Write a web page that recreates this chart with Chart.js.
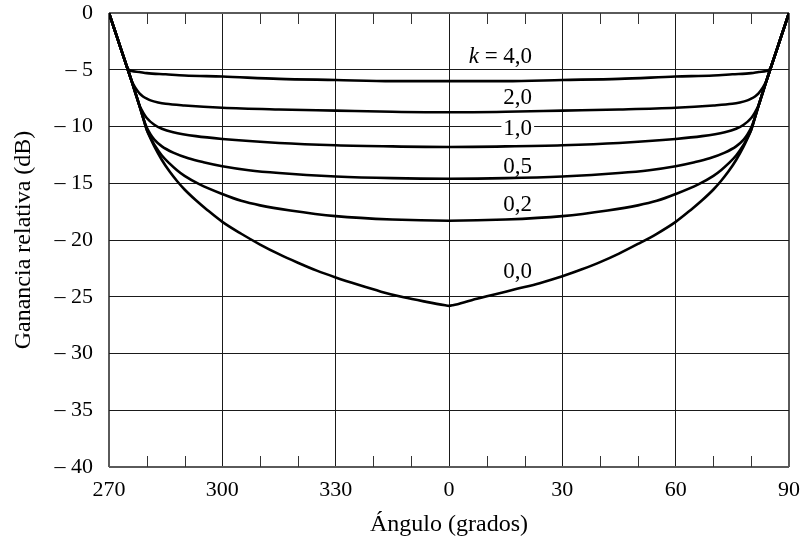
<!DOCTYPE html>
<html>
<head>
<meta charset="utf-8">
<script src="https://cdn.jsdelivr.net/npm/chart.js@4.4.0/dist/chart.umd.min.js"></script>
<style>
  html, body { margin: 0; padding: 0; background: #fff; }
</style>
</head>
<body>
<canvas id="gainChart" width="803" height="539"></canvas>
<script>
// relative gain vs angle, one curve per k (angle -90 = 270 on the axis)

const kNames = ['k = 4,0', '2,0', '1,0', '0,5', '0,2', '0,0'];

const k40Angle = [-90, -89, -88, -87, -86, -85, -84.5, -84, -82, -80, -75, -70, -60, -45, -30, -15, 0, 15, 30, 45, 60, 70, 75, 80, 82, 84, 84.5, 85, 86, 87, 88, 89, 90];
const k40Gain = [0, -1.0, -2.0, -3.0, -4.0, -4.9, -5.05, -5.12, -5.2, -5.3, -5.4, -5.5, -5.6, -5.8, -5.9, -6.0, -6.0, -6.0, -5.9, -5.8, -5.6, -5.5, -5.4, -5.3, -5.2, -5.12, -5.05, -4.9, -4.0, -3.0, -2.0, -1.0, 0];

const k20Angle = [-90, -89, -88, -87, -86, -85, -84, -83, -82, -81, -80, -79, -77, -75, -70, -60, -45, -30, -15, 0, 15, 30, 45, 60, 70, 75, 77, 79, 80, 81, 82, 83, 84, 85, 86, 87, 88, 89, 90];
const k20Gain = [0, -1.0, -2.0, -3.0, -4.0, -5.0, -6.0, -6.6, -7.05, -7.35, -7.55, -7.7, -7.88, -8.0, -8.15, -8.35, -8.5, -8.6, -8.7, -8.75, -8.7, -8.6, -8.5, -8.35, -8.15, -8.0, -7.88, -7.7, -7.55, -7.35, -7.05, -6.6, -6.0, -5.0, -4.0, -3.0, -2.0, -1.0, 0];

const k10Angle = [-90, -89, -88, -87, -86, -85, -84, -83, -82, -81, -80, -78, -76, -73, -67, -60, -45, -30, -15, 0, 15, 30, 45, 60, 67, 73, 76, 78, 80, 81, 82, 83, 84, 85, 86, 87, 88, 89, 90];
const k10Gain = [0, -1.0, -2.0, -3.0, -4.0, -5.0, -6.0, -7.05, -8.1, -8.75, -9.25, -9.85, -10.2, -10.5, -10.85, -11.1, -11.45, -11.65, -11.75, -11.8, -11.75, -11.65, -11.45, -11.1, -10.85, -10.5, -10.2, -9.85, -9.25, -8.75, -8.1, -7.05, -6.0, -5.0, -4.0, -3.0, -2.0, -1.0, 0];

const k05Angle = [-90, -89, -88, -87, -86, -85, -84, -83, -82, -81, -80, -79, -78, -76, -73, -69, -65, -60, -53, -45, -30, -15, 0, 15, 30, 45, 53, 60, 65, 69, 73, 76, 78, 79, 80, 81, 82, 83, 84, 85, 86, 87, 88, 89, 90];
const k05Gain = [0, -1.0, -2.0, -3.0, -4.0, -5.0, -6.0, -7.05, -8.1, -9.2, -10.1, -10.7, -11.15, -11.75, -12.3, -12.8, -13.15, -13.5, -13.85, -14.1, -14.4, -14.55, -14.6, -14.55, -14.4, -14.1, -13.85, -13.5, -13.15, -12.8, -12.3, -11.75, -11.15, -10.7, -10.1, -9.2, -8.1, -7.05, -6.0, -5.0, -4.0, -3.0, -2.0, -1.0, 0];

const k02Angle = [-90, -89, -88, -87, -86, -85, -84, -83, -82, -81, -80, -79, -78, -76, -74, -72, -70, -66, -60, -55, -50, -42, -30, -15, 0, 15, 30, 42, 50, 55, 60, 66, 70, 72, 74, 76, 78, 79, 80, 81, 82, 83, 84, 85, 86, 87, 88, 89, 90];
const k02Gain = [0, -1.0, -2.0, -3.0, -4.0, -5.0, -6.0, -7.05, -8.1, -9.2, -10.3, -11.0, -11.6, -12.55, -13.25, -13.85, -14.35, -15.1, -15.95, -16.55, -16.95, -17.4, -17.9, -18.2, -18.3, -18.2, -17.9, -17.4, -16.95, -16.55, -15.95, -15.1, -14.35, -13.85, -13.25, -12.55, -11.6, -11.0, -10.3, -9.2, -8.1, -7.05, -6.0, -5.0, -4.0, -3.0, -2.0, -1.0, 0];

const k00Angle = [-90, -89, -88, -87, -86, -85, -84, -83, -82, -81, -80, -79, -78, -76, -74, -72, -70, -67, -64, -60, -55, -50, -45, -40, -35, -30, -24, -18, -12, -6, -1, 0, 1, 6, 12, 18, 24, 30, 35, 40, 45, 50, 55, 60, 64, 67, 70, 72, 74, 76, 78, 79, 80, 81, 82, 83, 84, 85, 86, 87, 88, 89, 90];
const k00Gain = [0, -1.0, -2.0, -3.0, -4.0, -5.0, -6.0, -7.05, -8.1, -9.2, -10.3, -11.05, -11.75, -12.95, -13.95, -14.8, -15.55, -16.5, -17.35, -18.4, -19.45, -20.4, -21.25, -22.0, -22.7, -23.3, -23.95, -24.55, -25.05, -25.45, -25.75, -25.8, -25.75, -25.3, -24.8, -24.3, -23.8, -23.2, -22.6, -21.95, -21.2, -20.35, -19.45, -18.4, -17.35, -16.5, -15.55, -14.8, -13.95, -12.95, -11.75, -11.05, -10.3, -9.2, -8.1, -7.05, -6.0, -5.0, -4.0, -3.0, -2.0, -1.0, 0];

const xTickValues = [-90, -60, -30, 0, 30, 60, 90];
const xTickLabels = ['270', '300', '330', '0', '30', '60', '90'];
const xMinorTicks = [-80, -70, -50, -40, -20, -10, 10, 20, 40, 50, 70, 80];
const yTickValues = [0, -5, -10, -15, -20, -25, -30, -35, -40];
const yTickLabels = ['0', '– 5', '– 10', '– 15', '– 20', '– 25', '– 30', '– 35', '– 40'];

// where the k labels sit (right edge angle, gain)
const labelAngle = 22;
const labelGain = [-3.9, -7.45, -10.25, -13.55, -16.95, -22.85];

const serif = "'Liberation Serif', 'Times New Roman', serif";
const labelFont = '23px ' + serif;
const gridColor = '#1a1a1a';
const frameColor = '#5a5a5a';

function pts(a, g) {
    return a.map((v, i) => ({ x: v, y: g[i] }));
}

const series = [
    pts(k40Angle, k40Gain),
    pts(k20Angle, k20Gain),
    pts(k10Angle, k10Gain),
    pts(k05Angle, k05Gain),
    pts(k02Angle, k02Gain),
    pts(k00Angle, k00Gain)
];

const extras = {
    id: 'extras',
    afterDatasetsDraw(chart) {
        const ctx = chart.ctx;
        const x = chart.scales.x;
        const y = chart.scales.y;
        const area = chart.chartArea;

        // minor ticks pointing inward, top and bottom
        ctx.save();
        ctx.strokeStyle = '#333';
        ctx.lineWidth = 1;
        xMinorTicks.forEach(v => {
            const px = Math.round(x.getPixelForValue(v)) + 0.5;
            ctx.beginPath();
            ctx.moveTo(px, area.bottom);
            ctx.lineTo(px, area.bottom - 11);
            ctx.moveTo(px, area.top);
            ctx.lineTo(px, area.top + 11);
            ctx.stroke();
        });

        // curve labels
        ctx.font = labelFont;
        ctx.fillStyle = '#000';
        ctx.textBaseline = 'middle';
        ctx.textAlign = 'right';
        const rx = x.getPixelForValue(labelAngle);
        kNames.forEach((name, i) => {
            const py = y.getPixelForValue(labelGain[i]);
            if (i === 0) {
                const rest = ' = 4,0';
                ctx.fillText(rest, rx, py);
                const w = ctx.measureText(rest).width;
                ctx.font = 'italic ' + labelFont;
                ctx.fillText('k', rx - w, py);
                ctx.font = labelFont;
                return;
            }
            if (i === 2) {
                const w = ctx.measureText(name).width;
                ctx.fillStyle = '#fff';
                ctx.fillRect(rx - w - 2, py - 8, w + 4, 16);
                ctx.fillStyle = '#000';
            }
            ctx.fillText(name, rx, py);
        });
        ctx.restore();
    }
};

const edgeX = c => c.tick && (c.tick.value === -90 || c.tick.value === 90);
const edgeY = c => c.tick && (c.tick.value === 0 || c.tick.value === -40);

const chart = new Chart(document.getElementById('gainChart').getContext('2d'), {
    type: 'line',
    data: {
        datasets: series.map((d, i) => ({
            label: kNames[i],
            data: d,
            borderColor: '#000',
            borderWidth: 2.6,
            pointRadius: 0,
            fill: false,
            cubicInterpolationMode: 'monotone'
        }))
    },
    options: {
        responsive: false,
        animation: false,
        layout: { padding: { left: 0, right: 14, top: 13, bottom: 0 } },
        plugins: {
            legend: { display: false },
            tooltip: { enabled: false }
        },
        scales: {
            x: {
                type: 'linear',
                min: -90,
                max: 90,
                afterBuildTicks: s => { s.ticks = xTickValues.map(v => ({ value: v })); },
                afterFit: s => {
                    s.height = 72;
                    s.paddingLeft = 0;
                    s.paddingRight = 0;
                },
                ticks: {
                    padding: 10,
                    maxRotation: 0,
                    color: '#000',
                    font: { family: serif, size: 22 },
                    callback: v => xTickLabels[xTickValues.indexOf(v)]
                },
                grid: {
                    drawTicks: false,
                    color: c => edgeX(c) ? frameColor : gridColor,
                    lineWidth: c => edgeX(c) ? 2 : 1
                },
                border: { display: false },
                title: {
                    display: true,
                    text: 'Ángulo (grados)',
                    color: '#000',
                    font: { family: serif, size: 24 },
                    padding: { top: 0, bottom: 0 }
                }
            },
            y: {
                min: -40,
                max: 0,
                afterBuildTicks: s => { s.ticks = yTickValues.map(v => ({ value: v })); },
                afterFit: s => {
                    s.width = 109;
                    s.paddingTop = 0;
                    s.paddingBottom = 0;
                },
                ticks: {
                    padding: 16,
                    color: '#000',
                    font: { family: serif, size: 22 },
                    callback: v => yTickLabels[yTickValues.indexOf(v)]
                },
                grid: {
                    drawTicks: false,
                    color: c => edgeY(c) ? frameColor : gridColor,
                    lineWidth: c => edgeY(c) ? 2 : 1
                },
                border: { display: false },
                title: {
                    display: true,
                    text: 'Ganancia relativa (dB)',
                    color: '#000',
                    font: { family: serif, size: 24 },
                    padding: { top: 9, bottom: 0 }
                }
            }
        }
    },
    plugins: [extras]
});
</script>
</body>
</html>
